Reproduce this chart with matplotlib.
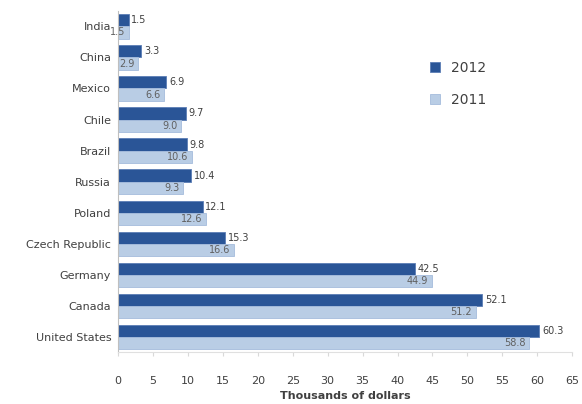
import numpy as np
import matplotlib.pyplot as plt

countries = ['India', 'China', 'Mexico', 'Chile', 'Brazil', 'Russia', 'Poland',
             'Czech Republic', 'Germany', 'Canada', 'United States']
v2012 = [1.5, 3.3, 6.9, 9.7, 9.8, 10.4, 12.1, 15.3, 42.5, 52.1, 60.3]
v2011 = [1.5, 2.9, 6.6, 9.0, 10.6, 9.3, 12.6, 16.6, 44.9, 51.2, 58.8]

dark = '#2A5597'
light = '#B9CDE5'
txt = '#404040'

fig = plt.figure(figsize=(5.82, 4.04), dpi=100)
ax = fig.add_axes([0.203, 0.128, 0.78, 0.845])

y = np.arange(len(countries))
h = 0.39
ax.barh(y - h / 2, v2012, height=h, color=dark, edgecolor='#5B7DB5', linewidth=0.6, label='2012')
ax.barh(y + h / 2, v2011, height=h, color=light, edgecolor='#A5BCDC', linewidth=0.6, label='2011')

for yi, v in zip(y, v2012):
    ax.text(v + 0.4, yi - h / 2, f'{v:.1f}', va='center', ha='left', fontsize=7, color=txt)
for yi, v in zip(y, v2011):
    ax.text(v - 0.5, yi + h / 2, f'{v:.1f}', va='center', ha='right', fontsize=7, color='#606060')

ax.set_yticks(y)
ax.set_yticklabels(countries, fontsize=8, color=txt)
ax.set_ylim(len(countries) - 0.5, -0.5)
ax.set_xlim(0, 65)
ax.set_xticks(np.arange(0, 66, 5))
ax.tick_params(axis='x', labelsize=8, colors=txt, length=3, color='#D9D9D9', pad=14)
ax.tick_params(axis='y', length=0, pad=5)
ax.set_xlabel('Thousands of dollars', fontsize=8, fontweight='bold', color=txt, labelpad=4)

for s in ['top', 'right']:
    ax.spines[s].set_visible(False)
ax.spines['left'].set_color('#BFBFBF')
ax.spines['bottom'].set_color('#E0E0E0')

ax.legend(loc='upper left', bbox_to_anchor=(0.66, 0.89), frameon=False, fontsize=10,
          handlelength=0.7, handleheight=0.7, labelspacing=1.3, labelcolor=txt)

fig.savefig('out.png', dpi=100)
